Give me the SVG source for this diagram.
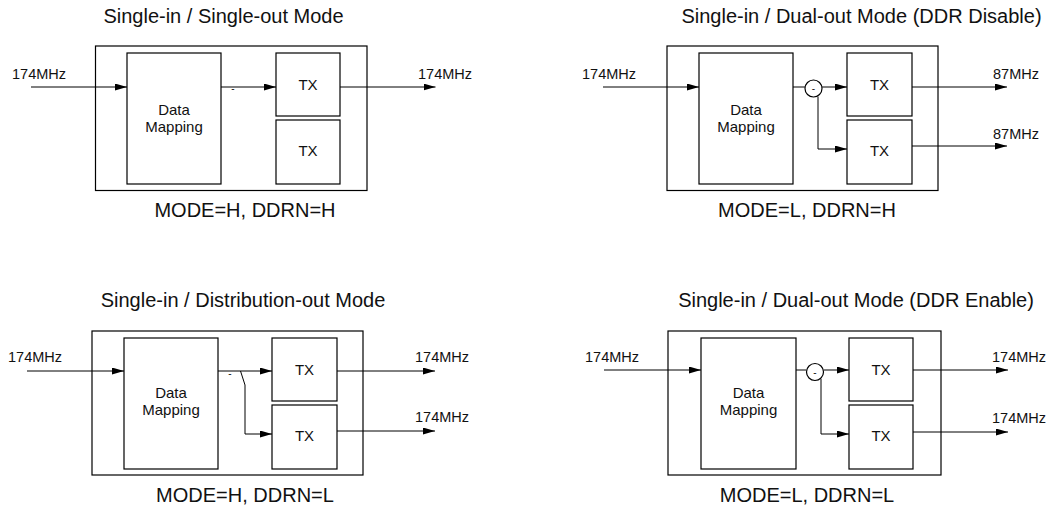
<svg xmlns="http://www.w3.org/2000/svg" width="1051" height="514" viewBox="0 0 1051 514">
<defs>
<marker id="arr" viewBox="0 0 12 7" refX="12" refY="3.5" markerWidth="12" markerHeight="7" markerUnits="userSpaceOnUse" orient="auto">
<path d="M0,0 L12,3.5 L0,7 Z" fill="#000"/>
</marker>
<style>
.box{fill:#fff;stroke:#000;stroke-width:1.2}
.ln{fill:none;stroke:#000;stroke-width:1}
.ar{fill:none;stroke:#000;stroke-width:1;marker-end:url(#arr)}
text{font-family:"Liberation Sans",Arial,sans-serif;fill:#111}
.title{font-size:20px;text-anchor:middle}
.lbl{font-size:14.5px}
.in{font-size:15px;text-anchor:middle}
.sm{font-size:10px;text-anchor:middle}
</style>
</defs>
<rect width="1051" height="514" fill="#fff"/>

<!-- Panel 1 -->
<g id="panel1">
<text class="title" x="223.5" y="23">Single-in / Single-out Mode</text>
<rect class="box" x="95.5" y="46" width="271.5" height="144.5"/>
<g id="p1-dm"><rect class="box" x="127" y="53" width="94" height="131"/><text class="in" x="174" y="115">Data</text><text class="in" x="174" y="132">Mapping</text></g>
<g id="p1-tx1"><rect class="box" x="276" y="53" width="64" height="63"/><text class="in" x="308" y="89.5">TX</text></g>
<g id="p1-tx2"><rect class="box" x="276" y="120" width="64" height="64"/><text class="in" x="308" y="156">TX</text></g>
<text class="lbl" x="12" y="79">174MHz</text>
<text class="lbl" x="418" y="79">174MHz</text>
<text class="sm" x="233" y="92">-</text>
<text class="title" x="245" y="217">MODE=H, DDRN=H</text>
</g>

<!-- Panel 2 -->
<g id="panel2">
<text class="title" x="861.5" y="23">Single-in / Dual-out Mode (DDR Disable)</text>
<rect class="box" x="667" y="46" width="271" height="144.5"/>
<g id="p2-dm"><rect class="box" x="699" y="53" width="94" height="131"/><text class="in" x="746" y="115">Data</text><text class="in" x="746" y="132">Mapping</text></g>
<g id="p2-tx1"><rect class="box" x="847" y="53" width="65" height="63"/><text class="in" x="879.5" y="89.5">TX</text></g>
<g id="p2-tx2"><rect class="box" x="847" y="120" width="65" height="64"/><text class="in" x="879.5" y="156">TX</text></g>
<g id="p2-split"><circle cx="813.5" cy="88.5" r="8.5" fill="#fff" stroke="#000" stroke-width="1.2"/><text class="sm" x="813.5" y="92">-</text></g>
<text class="lbl" x="582" y="79">174MHz</text>
<text class="lbl" x="993" y="79">87MHz</text>
<text class="lbl" x="993" y="139">87MHz</text>
<text class="title" x="807" y="217">MODE=L, DDRN=H</text>
</g>

<!-- Panel 3 -->
<g id="panel3">
<text class="title" x="243" y="307">Single-in / Distribution-out Mode</text>
<rect class="box" x="92" y="331" width="271" height="144"/>
<g id="p3-dm"><rect class="box" x="124" y="338" width="94" height="131"/><text class="in" x="171" y="398">Data</text><text class="in" x="171" y="415">Mapping</text></g>
<g id="p3-tx1"><rect class="box" x="272" y="338" width="65" height="63"/><text class="in" x="304.5" y="374.5">TX</text></g>
<g id="p3-tx2"><rect class="box" x="272" y="405" width="65" height="64"/><text class="in" x="304.5" y="441">TX</text></g>
<text class="lbl" x="8" y="362">174MHz</text>
<text class="lbl" x="415" y="362">174MHz</text>
<text class="lbl" x="415" y="422">174MHz</text>
<text class="sm" x="230" y="377">-</text>
<text class="title" x="245" y="502">MODE=H, DDRN=L</text>
</g>

<!-- Panel 4 -->
<g id="panel4">
<text class="title" x="856" y="307">Single-in / Dual-out Mode (DDR Enable)</text>
<rect class="box" x="668" y="331" width="273" height="144"/>
<g id="p4-dm"><rect class="box" x="701" y="338" width="95" height="131"/><text class="in" x="748.5" y="398">Data</text><text class="in" x="748.5" y="415">Mapping</text></g>
<g id="p4-tx1"><rect class="box" x="849" y="338" width="64" height="63"/><text class="in" x="881" y="374.5">TX</text></g>
<g id="p4-tx2"><rect class="box" x="849" y="405" width="64" height="64"/><text class="in" x="881" y="441">TX</text></g>
<g id="p4-split"><circle cx="815" cy="372" r="8.5" fill="#fff" stroke="#000" stroke-width="1.2"/><text class="sm" x="815" y="375.5">-</text></g>
<text class="lbl" x="585" y="362">174MHz</text>
<text class="lbl" x="992" y="362">174MHz</text>
<text class="lbl" x="992" y="423">174MHz</text>
<text class="title" x="807" y="502">MODE=L, DDRN=L</text>
</g>

<g id="connectors">
<!-- panel 1 -->
<line class="ar" x1="31" y1="87" x2="127" y2="87"/>
<line class="ar" x1="221" y1="87" x2="276" y2="87"/>
<line class="ar" x1="340" y1="87" x2="435.5" y2="87"/>
<!-- panel 2 -->
<line class="ar" x1="603" y1="87" x2="699" y2="87"/>
<line class="ln" x1="793" y1="87" x2="805" y2="87"/>
<line class="ar" x1="822" y1="87" x2="847" y2="87"/>
<path class="ar" d="M818,96.5 V149 H847"/>
<line class="ar" x1="912" y1="87" x2="1007" y2="87"/>
<line class="ar" x1="912" y1="146" x2="1007" y2="146"/>
<!-- panel 3 -->
<line class="ar" x1="27" y1="371" x2="124" y2="371"/>
<line class="ar" x1="218" y1="371" x2="272" y2="371"/>
<path class="ar" d="M240.5,371 L245,385 V434 H272"/>
<line class="ar" x1="337" y1="371" x2="435" y2="371"/>
<line class="ar" x1="337" y1="431" x2="435" y2="431"/>
<!-- panel 4 -->
<line class="ar" x1="604" y1="370" x2="701" y2="370"/>
<line class="ln" x1="796" y1="370" x2="806.5" y2="370"/>
<line class="ar" x1="823.5" y1="370" x2="849" y2="370"/>
<path class="ar" d="M821,379 V434 H849"/>
<line class="ar" x1="913" y1="370" x2="1008" y2="370"/>
<line class="ar" x1="913" y1="432" x2="1008" y2="432"/>
</g>
</svg>
